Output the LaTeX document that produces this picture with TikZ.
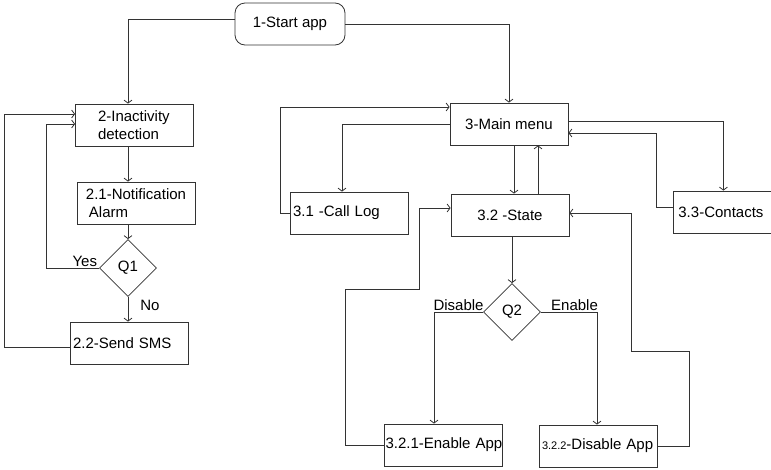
\documentclass[tikz,border=0pt]{standalone}
\usepackage{fontspec}
\setmainfont{Liberation Sans}
\usetikzlibrary{arrows.meta,shapes.geometric,positioning}

\begin{document}
\begin{tikzpicture}[
  x=1pt, y=-1pt,
  font=\fontsize{15}{17.5}\selectfont,
  color=black!80, text=black, line width=0.8pt,
  box/.style={draw, align=center, minimum width=118pt, minimum height=42pt, inner sep=2pt},
  boxl/.style={draw, align=left, text width=116pt, inner xsep=1pt, minimum height=42pt},
  start/.style={box, rounded corners=10pt, minimum width=110pt},
  ask/.style={draw, diamond, minimum width=57pt, minimum height=57pt, inner sep=0pt},
  lbl/.style={inner sep=1pt},
  arrow/.style={-{Straight Barb[length=3pt,width=8pt]}}
]
\useasboundingbox (0,0) rectangle (771,469);
\clip (0,0) rectangle (771,469);
\node[start] (start) at (290,24) {1-Start app};
\node[box, align=left] (inact) at (134.5,125) {2-Inactivity\\detection\hspace*{12pt}};
\node[box, align=left] (notif) at (136,203) {2.1-Notification\\\hspace{3pt}Alarm};
\node[ask] (q1) at (128,268) {Q1};
\node[boxl] (sms) at (129,343) {\hspace{2pt}2.2-Send SMS};
\node[box] (main) at (509,124) {3-Main menu};
\node[boxl] (call) at (349,213) {\hspace{2pt}3.1 -Call Log};
\node[box] (state) at (510,215) {3.2 -State};
\node[boxl, anchor=west] (cont) at (673,212) {\hspace{4pt}3.3-Contacts};
\node[ask] (q2) at (512,312) {Q2};
\node[boxl] (enable) at (443.5,445) {\mbox{3.2.1-Enable App}};
\node[boxl] (disable) at (598,446) {\mbox{\hspace{2pt}{\fontsize{11}{13}\selectfont 3.2.2}-Disable App}};
\coordinate (c1) at (128,0);
\coordinate (c2) at (514,0);
\coordinate (c3) at (538,0);
\draw[arrow] ([yshift=5pt]start.west) -| (c1 |- inact.north);
\draw[arrow] (start.east) -| (main.north);
\draw[arrow] (c1 |- inact.south) -- (c1 |- notif.north);
\draw[arrow] (c1 |- notif.south) -- (q1.north);
\draw[arrow] (q1.south) -- node[lbl, right=11pt, pos=0.35] {No} (q1.south |- sms.north);
\draw[arrow] (q1.west) -- node[lbl, above, pos=0.27] {Yes} ++(-53,0) |- ([yshift=1pt]inact.west);
\draw[arrow] ([yshift=-4pt]sms.west) -- ++(-65,0) |- ([yshift=11pt]inact.west);
\draw[arrow] (call.west) -- ++(-9,0) |- ([yshift=17pt]main.west);
\draw[arrow] (main.west) -| ([xshift=-7pt]call.north);
\draw[arrow] (c2 |- main.south) -- (c2 |- state.north);
\draw[arrow] (c3 |- state.north) -- (c3 |- main.south);
\draw[arrow] ([yshift=3pt]main.east) -| ([xshift=-9pt]cont.north);
\draw[arrow] ([yshift=5pt]cont.west) -- ++(-17,0) |- ([yshift=-9pt]main.east);
\draw[arrow] (q2.north |- state.south) -- (q2.north);
\draw[arrow] (q2.west) -| node[lbl, above, pos=0.25] {Disable} ([xshift=-9.5pt]enable.north);
\draw[arrow] (q2.east) -| node[lbl, above, pos=0.3] {Enable} ([xshift=-1pt]disable.north);
\draw[arrow] (enable.west) -- ++(-39,0) -- ++(0,-156) -- ++(74,0) |- ([yshift=7pt]state.west);
\draw[arrow] (disable.east) -- ++(32,0) -- ++(0,-95) -- ++(-58,0) |- ([yshift=2pt]state.east);
\end{tikzpicture}
\end{document}
